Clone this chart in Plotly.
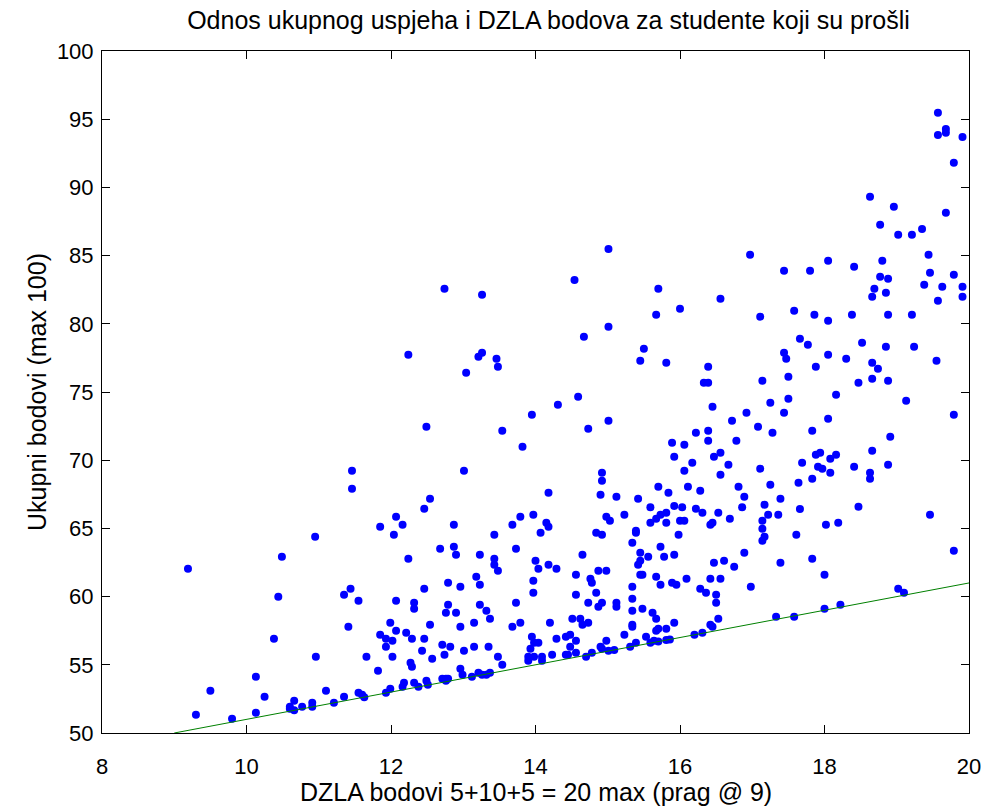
import plotly.graph_objects as go

# (DZLA bodovi, ukupni bodovi), grouped by region of the plot
gornji_desni = [
    (15.01, 85.48), (14.54, 83.21), (16.97, 85.07),
    (19.57, 95.48), (19.57, 93.84), (19.68, 94.28), (19.68, 94.01), (19.91, 93.70),
    (19.79, 91.81), (18.63, 89.32), (18.96, 88.59), (19.68, 88.14), (18.77, 87.27),
    (19.02, 86.53), (19.21, 86.53), (19.35, 86.95), (19.44, 85.07), (17.44, 83.89),
    (17.80, 83.89), (18.05, 84.63), (18.41, 84.19), (18.80, 84.63), (19.46, 83.75),
    (18.77, 83.45), (18.88, 83.31), (19.79, 83.60),
]

desni = [
    (19.38, 82.87), (19.63, 82.72), (19.91, 82.72), (18.69, 82.57), (18.85, 82.28),
    (18.66, 81.99), (19.57, 81.69), (19.91, 81.99), (17.11, 80.52), (17.58, 80.96),
    (17.86, 80.67), (18.05, 80.23), (18.38, 80.67), (18.88, 80.67), (19.21, 80.67),
    (17.66, 78.91), (17.77, 78.47), (18.52, 78.61), (18.85, 78.32), (19.24, 78.32),
    (17.44, 77.88), (17.47, 77.44), (18.05, 77.73), (18.30, 77.44), (19.55, 77.29),
    (17.88, 76.86), (18.66, 77.15), (18.74, 76.71), (17.14, 75.83), (17.50, 76.12),
    (18.47, 75.68), (18.66, 75.98), (18.88, 75.83), (17.25, 74.22), (17.50, 74.51),
    (18.16, 74.80), (19.13, 74.36), (17.44, 73.48), (18.05, 73.04), (19.79, 73.34),
    (17.08, 72.46), (17.28, 72.02), (17.83, 72.16), (18.91, 71.72), (17.88, 70.40),
    (17.94, 70.55), (18.16, 70.40), (18.08, 70.11), (18.66, 70.70), (17.69, 69.82),
    (17.11, 69.38), (17.91, 69.52), (17.97, 69.38), (18.41, 69.52), (18.88, 69.67),
    (18.08, 69.08), (18.63, 69.08), (18.63, 68.64), (17.25, 68.20), (17.64, 68.35),
    (17.83, 68.64), (17.39, 67.18), (17.17, 66.74), (17.66, 66.42), (18.47, 66.59),
    (17.22, 66.00), (17.36, 66.00), (19.46, 66.00), (17.14, 65.56), (17.14, 64.98),
    (18.02, 65.27), (18.19, 65.42), (17.17, 64.39), (17.14, 64.10), (17.61, 64.54),
    (19.79, 63.37), (17.39, 62.49), (17.83, 62.78), (18.00, 61.61), (16.98, 60.73),
    (19.02, 60.58), (19.10, 60.29), (18.00, 59.11), (18.22, 59.41), (17.33, 58.53),
    (17.58, 58.53),
]

sredina_gore = [
    (15.70, 82.57), (16.56, 81.84), (16.00, 81.11), (15.67, 80.67), (15.01, 79.79),
    (14.67, 79.05), (15.50, 78.17), (15.45, 77.29), (15.81, 77.15), (16.39, 76.86),
    (16.33, 75.68), (16.39, 75.68), (16.45, 73.92), (16.92, 73.48), (16.72, 72.90),
    (14.59, 74.66), (14.31, 74.07), (13.95, 73.34), (15.01, 72.90), (14.73, 72.31),
    (16.22, 72.02), (16.39, 72.16), (16.39, 71.43), (16.78, 71.43), (15.89, 71.28),
    (16.06, 71.14), (15.92, 70.26), (16.17, 69.82), (16.47, 70.26), (16.56, 70.55),
    (16.67, 69.67), (16.06, 69.23), (16.56, 68.94), (14.92, 69.08), (14.92, 68.50),
    (14.18, 67.62), (14.90, 67.47), (15.12, 67.32), (15.42, 67.18), (15.70, 68.06),
    (15.84, 67.62), (16.11, 68.06), (16.28, 67.76), (16.81, 68.06), (16.89, 67.32),
    (15.59, 66.55), (15.92, 66.65), (16.03, 66.55), (16.22, 66.44), (16.86, 66.55),
]

sredina_dolje = [
    (13.97, 66.00), (14.98, 65.86), (15.03, 65.56), (15.23, 66.00), (16.31, 66.15),
    (16.53, 66.15), (15.67, 65.71), (15.73, 66.00), (15.81, 66.15), (15.59, 65.42),
    (15.81, 65.42), (16.00, 65.56), (16.06, 65.56), (16.42, 65.27), (16.45, 65.42),
    (16.69, 65.71), (14.15, 65.42), (14.18, 65.12), (14.07, 64.68), (14.84, 64.68),
    (14.92, 64.54), (15.39, 64.83), (15.39, 64.68), (15.34, 63.95), (15.98, 64.54),
    (15.73, 63.66), (14.65, 63.07), (15.45, 63.22), (15.56, 62.93), (15.78, 62.93),
    (15.92, 63.07), (16.89, 63.22), (15.45, 62.63), (15.42, 62.34), (16.61, 62.63),
    (16.47, 62.49), (16.75, 62.19), (14.00, 62.63), (14.04, 62.05), (14.18, 62.34),
    (14.29, 62.05), (14.87, 61.90), (14.98, 61.90), (14.56, 61.61), (14.76, 61.31),
    (14.78, 61.02), (15.45, 61.61), (15.48, 61.61), (15.67, 61.46), (15.73, 60.87),
    (15.89, 61.02), (15.95, 60.87), (16.09, 61.31), (16.42, 61.31), (16.56, 61.31),
    (13.97, 61.17), (13.97, 60.29), (14.56, 60.14), (14.84, 60.29), (15.34, 60.73),
    (16.28, 60.58), (16.36, 60.29), (16.50, 60.14), (16.50, 59.55), (15.34, 59.85),
    (14.73, 59.55), (14.87, 59.26), (14.92, 59.55), (15.12, 59.55), (15.12, 59.26),
    (15.48, 59.11), (15.34, 58.97), (15.62, 58.82), (15.67, 58.38), (14.51, 58.38),
    (14.62, 58.38), (14.65, 57.94), (14.73, 58.09), (14.20, 58.09), (15.92, 58.09),
    (16.53, 58.38), (15.34, 57.94), (15.34, 57.79), (16.42, 57.94), (16.45, 57.79),
    (15.70, 57.65), (15.67, 57.50), (15.81, 57.65), (15.23, 57.21), (15.53, 57.06),
    (16.20, 57.21), (16.31, 57.35), (14.42, 57.06), (14.48, 57.21), (14.29, 56.91),
    (14.56, 56.77), (15.64, 56.77), (15.59, 56.62), (15.70, 56.70), (15.81, 56.81),
    (15.86, 56.86), (14.98, 56.77), (15.39, 56.62), (14.04, 56.62), (14.48, 56.33),
    (14.90, 56.33), (14.92, 56.18), (15.31, 56.33), (15.01, 56.03), (15.09, 56.09),
    (14.56, 55.89), (14.78, 55.89), (14.42, 55.74), (14.45, 55.74), (14.23, 55.74),
    (14.70, 55.59), (13.98, 55.59), (14.09, 55.59), (14.09, 55.30),
]

lijevo = [
    (12.46, 66.44), (12.07, 65.86), (12.16, 65.27), (11.85, 65.12), (12.04, 64.54),
    (12.87, 65.27), (13.43, 64.54), (13.68, 65.27), (13.79, 65.86), (10.95, 64.39),
    (12.68, 63.51), (12.87, 63.66), (12.90, 63.07), (13.23, 63.07), (13.43, 62.78),
    (13.43, 62.34), (13.48, 61.90), (13.73, 63.51), (12.24, 62.78), (13.18, 61.46),
    (13.23, 60.87), (12.79, 61.02), (12.96, 60.73), (12.46, 60.58), (11.44, 60.58),
    (11.35, 60.14), (11.55, 59.70), (12.07, 59.70), (12.32, 59.55), (12.32, 59.11),
    (12.79, 59.41), (12.76, 58.82), (12.90, 58.82), (13.23, 59.41), (13.32, 58.97),
    (13.37, 58.38), (13.73, 59.55), (11.41, 57.79), (11.99, 58.09), (12.07, 57.50),
    (12.54, 57.94), (12.96, 57.79), (13.15, 58.09), (13.68, 57.79), (13.79, 58.09),
    (11.85, 57.21), (11.93, 56.91), (12.02, 56.77), (11.93, 56.33), (12.21, 57.35),
    (12.29, 56.91), (12.46, 56.91), (12.43, 56.03), (12.71, 56.47), (12.82, 56.33),
    (12.74, 55.74), (13.01, 56.03), (13.15, 56.33), (13.35, 56.33), (13.48, 55.59),
    (13.54, 55.01), (13.95, 57.06), (13.98, 56.62), (13.93, 56.18), (13.90, 55.59),
    (13.90, 55.30), (10.96, 55.59), (11.66, 55.59), (12.02, 55.59), (12.57, 55.45),
    (12.27, 55.15), (12.29, 54.86), (11.82, 54.57), (12.96, 54.71), (12.99, 54.27),
    (13.12, 54.13), (13.21, 54.42), (13.26, 54.27), (13.32, 54.27), (13.37, 54.42),
    (12.71, 53.98), (12.76, 53.98), (12.79, 53.98), (12.76, 53.83), (12.49, 53.83),
    (12.51, 53.54), (12.32, 53.69), (12.38, 53.39), (12.18, 53.69), (12.16, 53.39),
    (11.99, 53.25), (11.93, 52.95), (11.55, 52.95), (11.60, 52.81), (11.63, 52.63),
    (11.35, 52.66), (11.21, 52.22), (11.10, 53.10),
    (9.19, 62.05), (10.49, 62.93), (10.44, 59.99), (10.38, 56.91), (10.13, 54.13),
    (10.25, 52.66), (9.50, 53.10), (9.30, 51.34), (9.80, 51.05), (10.13, 51.49),
    (10.66, 52.37), (10.60, 51.93), (10.60, 51.78), (10.66, 51.66), (10.77, 51.93),
    (10.91, 52.22), (10.91, 51.93),
    (12.74, 82.57), (13.26, 82.13), (12.24, 77.73), (13.21, 77.59), (13.26, 77.88),
    (13.46, 77.44), (13.48, 76.86), (13.04, 76.41), (13.54, 72.16), (13.82, 70.99),
    (12.49, 72.46), (11.46, 69.23), (11.46, 67.91), (13.01, 69.23), (12.54, 67.18),
]

# threshold line: prag 9 DZLA bodova -> 50 ukupno, up to 20 -> 61
prag_x = [9, 20]
prag_y = [50, 61]

studenti = gornji_desni + desni + sredina_gore + sredina_dolje + lijevo
dzla = [p[0] for p in studenti]
ukupno = [p[1] for p in studenti]

FONT = "Arial, Liberation Sans, sans-serif"

fig = go.Figure()
fig.add_trace(
    go.Scatter(
        x=dzla,
        y=ukupno,
        mode="markers",
        marker=dict(color="#0000ff", size=8, line=dict(width=0)),
        showlegend=False,
    )
)
fig.add_trace(
    go.Scatter(
        x=prag_x,
        y=prag_y,
        mode="lines",
        line=dict(color="#008000", width=1),
        showlegend=False,
    )
)

axis_common = dict(
    showgrid=False,
    zeroline=False,
    showline=True,
    linecolor="black",
    linewidth=1,
    mirror="ticks",
    ticks="inside",
    ticklen=8,
    tickcolor="black",
    automargin=False,
    tickfont=dict(family=FONT, size=22, color="black"),
)

fig.update_layout(
    width=987,
    height=806,
    paper_bgcolor="white",
    plot_bgcolor="white",
    margin=dict(l=102, r=18, t=51, b=73),
    title=dict(
        text="Odnos ukupnog uspjeha i DZLA bodova za studente koji su prošli",
        x=0.515,
        xref="paper",
        y=0.975,
        yref="container",
        xanchor="center",
        yanchor="middle",
        font=dict(family=FONT, size=25, color="black"),
    ),
    xaxis=dict(
        range=[8, 20],
        tickvals=[8, 10, 12, 14, 16, 18, 20],
        ticklabelstandoff=14,
        **axis_common,
    ),
    yaxis=dict(
        range=[50, 100],
        tickvals=list(range(50, 101, 5)),
        ticklabelstandoff=3,
        title=dict(
            text="Ukupni bodovi (max 100)",
            font=dict(family=FONT, size=25, color="black"),
            standoff=3,
        ),
        **axis_common,
    ),
    annotations=[
        dict(
            text="DZLA bodovi 5+10+5 = 20 max (prag @ 9)",
            xref="paper",
            yref="paper",
            x=0.5,
            y=-0.0865,
            xanchor="center",
            yanchor="middle",
            showarrow=False,
            font=dict(family=FONT, size=25, color="black"),
        )
    ],
)

# page body has a default 8px margin; drop it so the figure fills the window
fig.write_html(
    "out.html",
    config={"displayModeBar": False},
    post_script="document.body.style.margin='0';document.body.style.overflow='hidden';",
)
